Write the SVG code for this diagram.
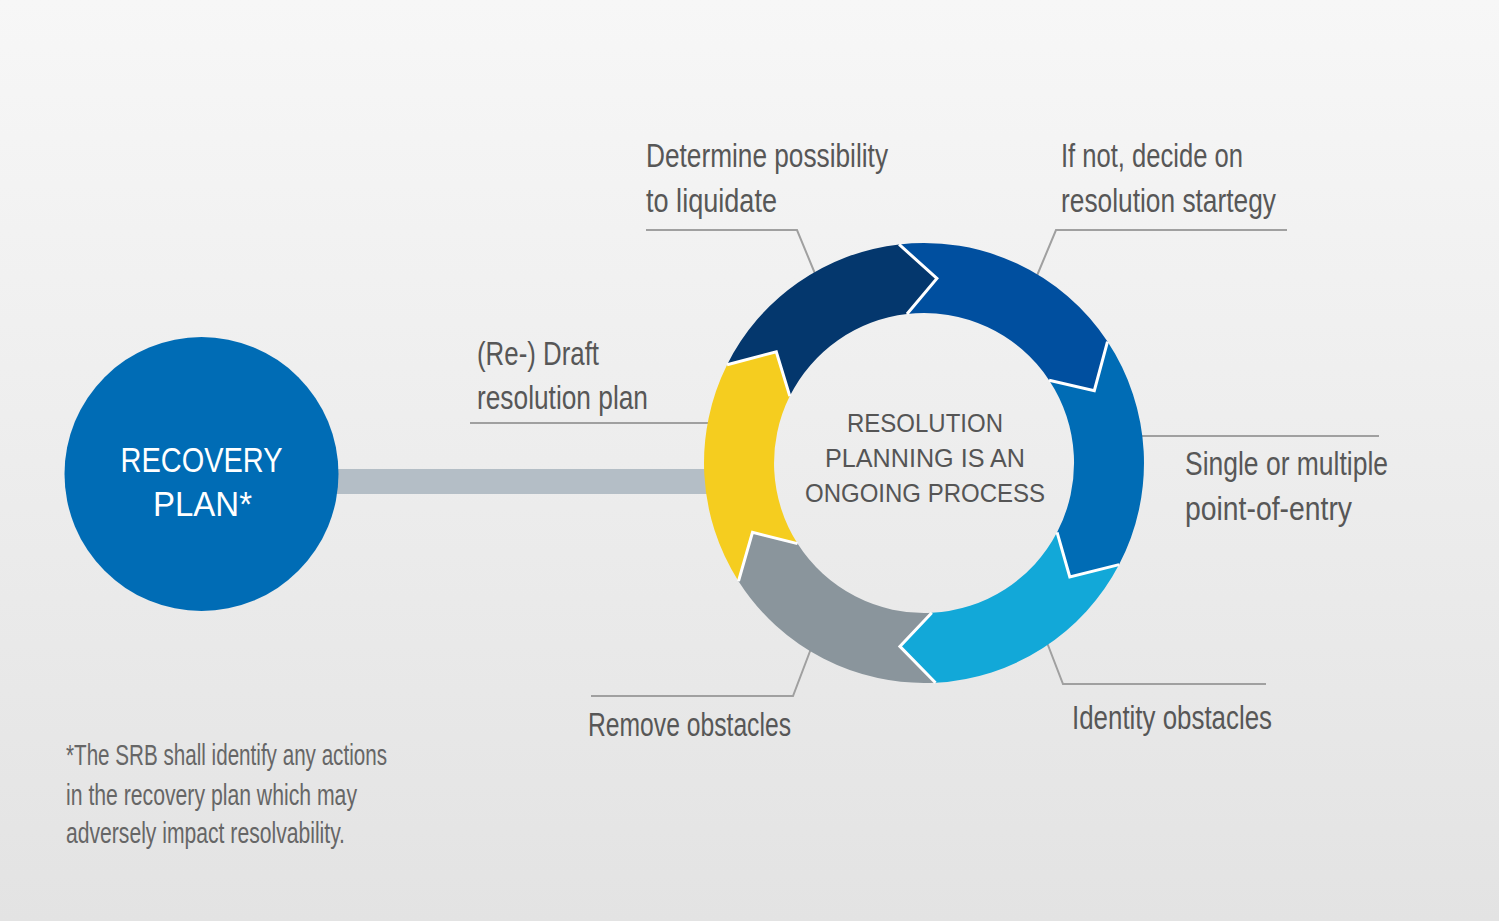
<svg xmlns="http://www.w3.org/2000/svg" width="1499" height="921" viewBox="0 0 1499 921">
<defs>
<linearGradient id="bg" x1="0" y1="0" x2="0" y2="1">
<stop offset="0" stop-color="#f7f7f7"/>
<stop offset="1" stop-color="#e3e3e3"/>
</linearGradient>
</defs>
<style>
.lbl{font-family:"Liberation Sans Narrow","Liberation Sans",Arial,sans-serif;font-size:33px;fill:#575757}
.note{font-family:"Liberation Sans Narrow","Liberation Sans",Arial,sans-serif;font-size:30px;fill:#666666}
.ctr{font-family:"Liberation Sans",Arial,sans-serif;font-size:26px;fill:#555555}
.rec{font-family:"Liberation Sans",Arial,sans-serif;font-size:35px;fill:#ffffff}
.lead{fill:none;stroke:#a0a0a0;stroke-width:2}
.sep{fill:none;stroke:#ffffff;stroke-width:3;stroke-linejoin:miter}
</style>
<rect x="0" y="0" width="1499" height="921" fill="url(#bg)"/>

<g id="connectors">
<rect x="330" y="469" width="380" height="25" fill="#b4bec6"/>
<polyline class="lead" points="646,230 797,230 816,276"/>
<polyline class="lead" points="1287,230 1056,230 1036,278"/>
<polyline class="lead" points="470,423 712,423"/>
<polyline class="lead" points="1138,436 1379,436"/>
<polyline class="lead" points="1046,640 1063,684 1266,684"/>
<polyline class="lead" points="812,646 793,696 591,696"/>
</g>

<g id="recovery-plan">
<circle cx="201.5" cy="474" r="137" fill="#006cb5"/>
<text class="rec" x="201.5" y="472" text-anchor="middle" textLength="162" lengthAdjust="spacingAndGlyphs">RECOVERY</text>
<text class="rec" x="202.5" y="516" text-anchor="middle" textLength="99" lengthAdjust="spacingAndGlyphs">PLAN*</text>
</g>

<g id="ring">
<path id="seg-navy" fill="#04376d" d="M727.1,364.8 A220,220 0 0 1 899.1,244.4 L936.9,278.4 L907.0,314.0 A150,150 0 0 0 789.8,396.1 L776.3,351.7 Z"/>
<path id="seg-blue" fill="#004f9f" d="M899.1,244.4 A220,220 0 0 1 1107.5,341.6 L1094.3,390.7 L1049.1,380.2 A150,150 0 0 0 907.0,314.0 L936.9,278.4 Z"/>
<path id="seg-mid" fill="#006cb5" d="M1107.5,341.6 A220,220 0 0 1 1119.1,564.6 L1069.8,576.9 L1057.1,532.3 A150,150 0 0 0 1049.1,380.2 L1094.3,390.7 Z"/>
<path id="seg-light" fill="#12a8d8" d="M1119.1,564.6 A220,220 0 0 1 935.5,682.7 L899.9,646.4 L931.8,612.8 A150,150 0 0 0 1057.1,532.3 L1069.8,576.9 Z"/>
<path id="seg-gray" fill="#8a959c" d="M935.5,682.7 A220,220 0 0 1 738.5,581.2 L752.5,532.3 L797.5,543.6 A150,150 0 0 0 931.8,612.8 L899.9,646.4 Z"/>
<path id="seg-yellow" fill="#f5cd1f" d="M738.5,581.2 A220,220 0 0 1 727.1,364.8 L776.3,351.7 L789.8,396.1 A150,150 0 0 0 797.5,543.6 L752.5,532.3 Z"/>
<polyline class="sep" points="899.1,244.4 936.9,278.4 907.0,314.0"/>
<polyline class="sep" points="1107.5,341.6 1094.3,390.7 1049.1,380.2"/>
<polyline class="sep" points="1119.1,564.6 1069.8,576.9 1057.1,532.3"/>
<polyline class="sep" points="935.5,682.7 899.9,646.4 931.8,612.8"/>
<polyline class="sep" points="738.5,581.2 752.5,532.3 797.5,543.6"/>
<polyline class="sep" points="727.1,364.8 776.3,351.7 789.8,396.1"/>
</g>

<g id="center-text">
<text class="ctr" x="925" y="432" text-anchor="middle" textLength="156" lengthAdjust="spacingAndGlyphs">RESOLUTION</text>
<text class="ctr" x="925" y="467" text-anchor="middle" textLength="200" lengthAdjust="spacingAndGlyphs">PLANNING IS AN</text>
<text class="ctr" x="925" y="502" text-anchor="middle" textLength="240" lengthAdjust="spacingAndGlyphs">ONGOING PROCESS</text>
</g>

<g id="label-liquidate">
<text class="lbl" x="646" y="167" textLength="242" lengthAdjust="spacingAndGlyphs">Determine possibility</text>
<text class="lbl" x="646" y="212" textLength="131" lengthAdjust="spacingAndGlyphs">to liquidate</text>
</g>
<g id="label-strategy">
<text class="lbl" x="1061" y="167" textLength="182" lengthAdjust="spacingAndGlyphs">If not, decide on</text>
<text class="lbl" x="1061" y="212" textLength="215" lengthAdjust="spacingAndGlyphs">resolution startegy</text>
</g>
<g id="label-draft">
<text class="lbl" x="477" y="365" textLength="122" lengthAdjust="spacingAndGlyphs">(Re-) Draft</text>
<text class="lbl" x="477" y="409" textLength="171" lengthAdjust="spacingAndGlyphs">resolution plan</text>
</g>
<g id="label-entry">
<text class="lbl" x="1185" y="475" textLength="203" lengthAdjust="spacingAndGlyphs">Single or multiple</text>
<text class="lbl" x="1185" y="520" textLength="167" lengthAdjust="spacingAndGlyphs">point-of-entry</text>
</g>
<g id="label-identity">
<text class="lbl" x="1072" y="729" textLength="200" lengthAdjust="spacingAndGlyphs">Identity obstacles</text>
</g>
<g id="label-remove">
<text class="lbl" x="588" y="736" textLength="203" lengthAdjust="spacingAndGlyphs">Remove obstacles</text>
</g>
<g id="footnote">
<text class="note" x="66" y="765" textLength="321" lengthAdjust="spacingAndGlyphs">*The SRB shall identify any actions</text>
<text class="note" x="66" y="805" textLength="291" lengthAdjust="spacingAndGlyphs">in the recovery plan which may</text>
<text class="note" x="66" y="843" textLength="279" lengthAdjust="spacingAndGlyphs">adversely impact resolvability.</text>
</g>
</svg>
